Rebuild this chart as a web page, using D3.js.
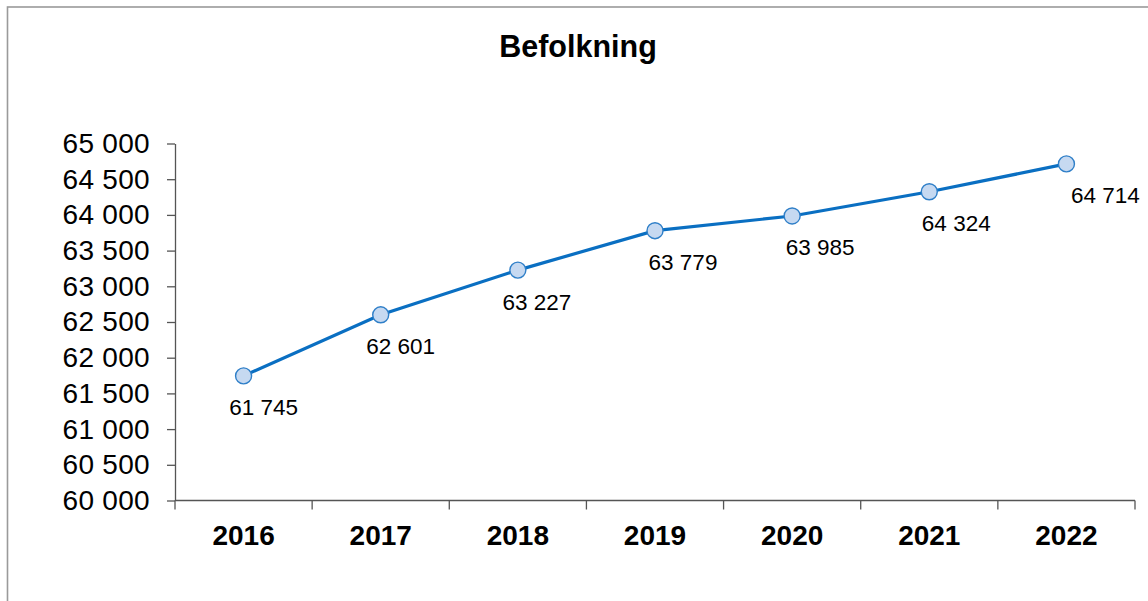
<!DOCTYPE html>
<html>
<head>
<meta charset="utf-8">
<script src="https://cdn.jsdelivr.net/npm/d3@7"></script>
<style>
  html, body { margin: 0; padding: 0; background: #fff; }
  svg { display: block; font-family: "Liberation Sans", Arial, sans-serif; }
</style>
</head>
<body>
<svg id="chart" width="1148" height="601"></svg>
<script>
// Population by year
const years = ["2016", "2017", "2018", "2019", "2020", "2021", "2022"];
const population = [61745, 62601, 63227, 63779, 63985, 64324, 64714];
const yTicks = [60000, 60500, 61000, 61500, 62000, 62500, 63000, 63500, 64000, 64500, 65000];
const chartTitle = "Befolkning";

// horizontal nudge of each value label relative to its point
const labelShift = [20, 20, 19, 28, 28, 27, 39];

const W = 1148, H = 601;
const plot = { left: 175, right: 1135, top: 143.5, bottom: 500.5 };

const svg = d3.select("#chart");

const nf = d3.formatLocale({ decimal: ",", thousands: " ", grouping: [3], currency: ["", ""] }).format(",d");

// outer frame (runs past the right and bottom edges)
svg.append("rect")
  .attr("x", 7.5).attr("y", 7)
  .attr("width", W + 20).attr("height", H + 20)
  .attr("fill", "none")
  .attr("stroke", "#9a9a9a")
  .attr("stroke-width", 1.6);

svg.append("text")
  .attr("x", 578).attr("y", 57)
  .attr("text-anchor", "middle")
  .attr("font-size", 30.5).attr("font-weight", "bold")
  .attr("fill", "#000")
  .text(chartTitle);

const x = d3.scaleBand().domain(years).range([plot.left, plot.right]).padding(0);
const y = d3.scaleLinear().domain([60000, 65000]).range([plot.bottom, plot.top]);

// y axis
const yAxis = svg.append("g")
  .attr("transform", `translate(${plot.left},0)`)
  .call(d3.axisLeft(y).tickValues(yTicks).tickFormat(nf).tickSize(8).tickSizeOuter(0).tickPadding(17));
yAxis.select(".domain").attr("stroke", "#555").attr("stroke-width", 1.3);
yAxis.selectAll(".tick line").attr("stroke", "#555").attr("stroke-width", 1.3);
yAxis.selectAll(".tick text")
  .attr("font-size", 28).attr("fill", "#000")
  .attr("letter-spacing", 0.3)
  .attr("font-family", "Liberation Sans, Arial, sans-serif");

// x axis with ticks between categories
const xAxisG = svg.append("g").attr("transform", `translate(0,${plot.bottom})`);
xAxisG.append("line")
  .attr("x1", plot.left).attr("x2", plot.right)
  .attr("stroke", "#555").attr("stroke-width", 1.3);
const boundaries = years.map(d => x(d)).concat([x(years[years.length - 1]) + x.bandwidth()]);
xAxisG.selectAll("line.tk").data(boundaries).join("line")
  .attr("class", "tk")
  .attr("x1", d => d).attr("x2", d => d)
  .attr("y1", 0).attr("y2", 9)
  .attr("stroke", "#555").attr("stroke-width", 1.3);
xAxisG.selectAll("text").data(years).join("text")
  .attr("x", d => x(d) + x.bandwidth() / 2)
  .attr("y", 44)
  .attr("text-anchor", "middle")
  .attr("font-size", 28).attr("font-weight", "bold")
  .attr("fill", "#000")
  .text(d => d);

const pts = years.map((yr, i) => ({ yr, v: population[i], i }));

// line
svg.append("path")
  .datum(pts)
  .attr("fill", "none")
  .attr("stroke", "#0a6fc2")
  .attr("stroke-width", 3.2)
  .attr("d", d3.line().x(d => x(d.yr) + x.bandwidth() / 2).y(d => y(d.v)));

// markers
svg.selectAll("circle.pt").data(pts).join("circle")
  .attr("class", "pt")
  .attr("cx", d => x(d.yr) + x.bandwidth() / 2)
  .attr("cy", d => y(d.v))
  .attr("r", 8)
  .attr("fill", "#c6d9f1")
  .attr("stroke", "#2f7fc8")
  .attr("stroke-width", 1.4);

// value labels
svg.selectAll("text.val").data(pts).join("text")
  .attr("class", "val")
  .attr("x", d => x(d.yr) + x.bandwidth() / 2 + labelShift[d.i])
  .attr("y", d => y(d.v) + 39.5)
  .attr("text-anchor", "middle")
  .attr("font-size", 22.5)
  .attr("fill", "#000")
  .text(d => nf(d.v));
</script>
</body>
</html>
